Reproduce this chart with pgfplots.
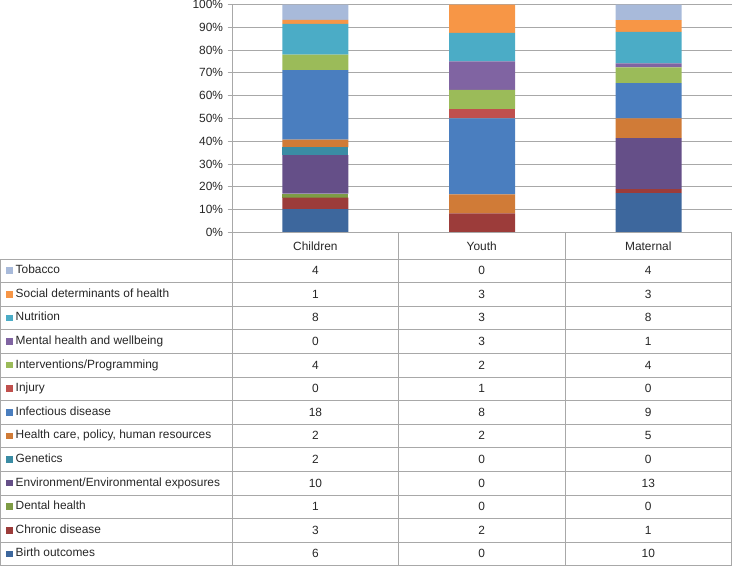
\documentclass[border=0pt]{standalone}
\usepackage{fontspec}
\setmainfont{Liberation Sans}
\usepackage{pgfplots}
\usepackage{pgfplotstable}
\pgfplotsset{compat=1.18}
\definecolor{cBirth}{HTML}{3D679D}
\definecolor{cChronic}{HTML}{9C3C3A}
\definecolor{cDental}{HTML}{7E9C45}
\definecolor{cEnv}{HTML}{654F88}
\definecolor{cGen}{HTML}{3A8CA4}
\definecolor{cHealth}{HTML}{D07B37}
\definecolor{cInfect}{HTML}{4A7EBF}
\definecolor{cInjury}{HTML}{C0504D}
\definecolor{cInterv}{HTML}{9BBB59}
\definecolor{cMental}{HTML}{8064A2}
\definecolor{cNutr}{HTML}{4BACC6}
\definecolor{cSocial}{HTML}{F79646}
\definecolor{cTobacco}{HTML}{A8BADA}
\definecolor{linegray}{HTML}{A8A8A8}
\definecolor{txt}{HTML}{262626}
\pgfplotstableread{
x total Birth Chronic Dental Env Genetics Health Infect Injury Interv Mental Nutr Social Tobacco
0 59 6 3 1 10 2 2 18 0 4 0 8 1 4
1 24 0 2 0 0 0 2 8 1 2 3 3 3 0
2 58 10 1 0 13 0 5 9 0 4 1 8 3 4
}\datatable
\newcommand{\tf}{\fontsize{11.9}{14}\selectfont}
\begin{document}
\begin{tikzpicture}
\useasboundingbox (0pt,0pt) rectangle (732pt,-568pt);
\begin{axis}[
  at={(232pt,-232.3pt)}, anchor=south west,
  scale only axis, width=500pt, height=227.8pt,
  ybar stacked, bar width=66pt,
  xmin=-0.5, xmax=2.5, ymin=0, ymax=100,
  axis x line=none,
  axis y line*=left,
  y axis line style={linegray, line width=0.8pt},
  ytick={0,10,...,100},
  yticklabel={\pgfmathprintnumber{\tick}\%},
  /pgf/number format/assume math mode=true,
  yticklabel style={font=\tf, text=txt, xshift=-1pt},
  tick align=outside, major tick length=4.5pt,
  ytick style={linegray, line width=0.8pt},
  ymajorgrids, grid style={linegray, line width=0.8pt},
  xtick=\empty,
  clip=false,
]
\addplot[fill=cBirth, draw=none] table[x=x, y expr=\thisrow{Birth}/\thisrow{total}*100] {\datatable};
\addplot[fill=cChronic, draw=none] table[x=x, y expr=\thisrow{Chronic}/\thisrow{total}*100] {\datatable};
\addplot[fill=cDental, draw=none] table[x=x, y expr=\thisrow{Dental}/\thisrow{total}*100] {\datatable};
\addplot[fill=cEnv, draw=none] table[x=x, y expr=\thisrow{Env}/\thisrow{total}*100] {\datatable};
\addplot[fill=cGen, draw=none] table[x=x, y expr=\thisrow{Genetics}/\thisrow{total}*100] {\datatable};
\addplot[fill=cHealth, draw=none] table[x=x, y expr=\thisrow{Health}/\thisrow{total}*100] {\datatable};
\addplot[fill=cInfect, draw=none] table[x=x, y expr=\thisrow{Infect}/\thisrow{total}*100] {\datatable};
\addplot[fill=cInjury, draw=none] table[x=x, y expr=\thisrow{Injury}/\thisrow{total}*100] {\datatable};
\addplot[fill=cInterv, draw=none] table[x=x, y expr=\thisrow{Interv}/\thisrow{total}*100] {\datatable};
\addplot[fill=cMental, draw=none] table[x=x, y expr=\thisrow{Mental}/\thisrow{total}*100] {\datatable};
\addplot[fill=cNutr, draw=none] table[x=x, y expr=\thisrow{Nutr}/\thisrow{total}*100] {\datatable};
\addplot[fill=cSocial, draw=none] table[x=x, y expr=\thisrow{Social}/\thisrow{total}*100] {\datatable};
\addplot[fill=cTobacco, draw=none] table[x=x, y expr=\thisrow{Tobacco}/\thisrow{total}*100] {\datatable};
\end{axis}
\begin{scope}[x=1pt, y=-1pt]
  % table lines
  \draw[linegray, line width=0.8pt] (232,232.3) -- (732,232.3);
  \foreach \k in {0,...,13} {
    \draw[linegray, line width=0.8pt] (0,259+\k*23.6) -- (732,259+\k*23.6);
  }
  \draw[linegray, line width=0.8pt] (0.5,259) -- (0.5,565.8);
  \foreach \xx in {232.3,398.5,565,731.5} {
    \draw[linegray, line width=0.8pt] (\xx,232.3) -- (\xx,565.8);
  }
  % header
  \node[font=\tf, text=txt, anchor=base, inner sep=0pt] at (315.4,250) {Children};
  \node[font=\tf, text=txt, anchor=base, inner sep=0pt] at (481.7,250) {Youth};
  \node[font=\tf, text=txt, anchor=base, inner sep=0pt] at (648.3,250) {Maternal};
  % rows
  \foreach [count=\i from 0] \lab/\col/\a/\b/\c in {
    Tobacco/cTobacco/4/0/4,
    Social determinants of health/cSocial/1/3/3,
    Nutrition/cNutr/8/3/8,
    Mental health and wellbeing/cMental/0/3/1,
    Interventions\slash Programming/cInterv/4/2/4,
    Injury/cInjury/0/1/0,
    Infectious disease/cInfect/18/8/9,
    {Health care, policy, human resources}/cHealth/2/2/5,
    Genetics/cGen/2/0/0,
    Environment\slash Environmental exposures/cEnv/10/0/13,
    Dental health/cDental/1/0/0,
    Chronic disease/cChronic/3/2/1,
    Birth outcomes/cBirth/6/0/10} {
    \pgfmathsetmacro{\yt}{259+\i*23.6}
    \fill[\col] (6,\yt+8.3) rectangle (13.2,\yt+14.9);
    \node[font=\tf, text=txt, anchor=base west, inner sep=0pt] at (15.5,\yt+14.7) {\lab};
    \node[font=\tf, text=txt, anchor=base, inner sep=0pt] at (315.4,\yt+15.6) {\a};
    \node[font=\tf, text=txt, anchor=base, inner sep=0pt] at (481.7,\yt+15.6) {\b};
    \node[font=\tf, text=txt, anchor=base, inner sep=0pt] at (648.3,\yt+15.6) {\c};
  }
\end{scope}
\end{tikzpicture}
\end{document}
